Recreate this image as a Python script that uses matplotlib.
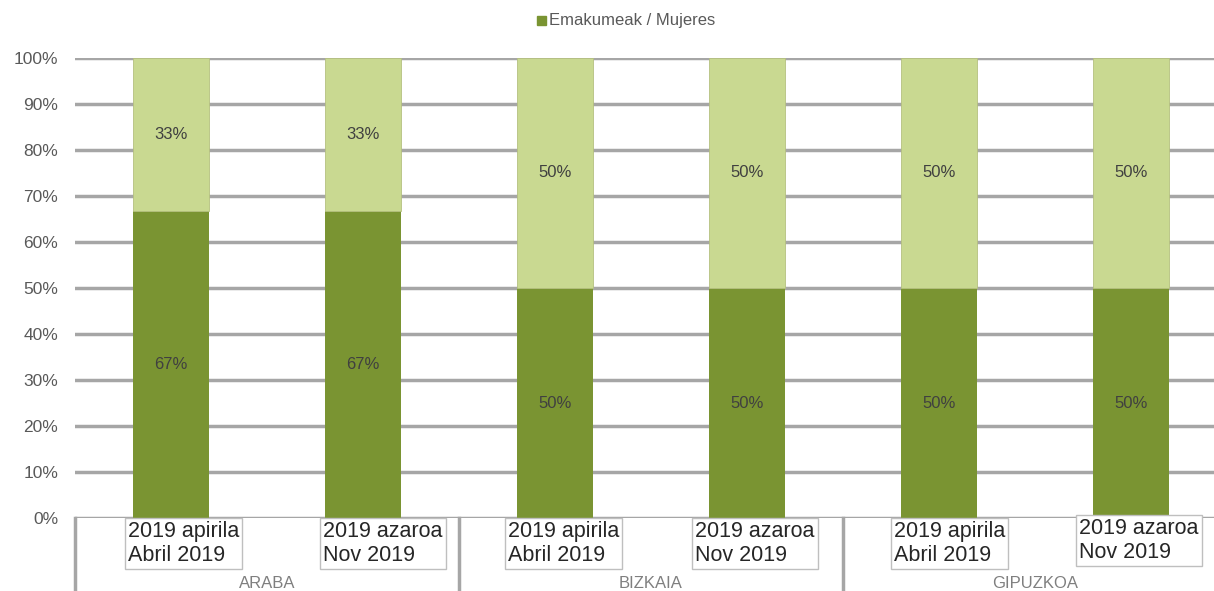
import matplotlib
matplotlib.use("Agg")
import matplotlib.pyplot as plt
from matplotlib.lines import Line2D
from matplotlib.transforms import blended_transform_factory

plt.rcParams['font.family'] = ['Liberation Sans', 'DejaVu Sans']

periods = ["2019 apirila\nAbril 2019", "2019 azaroa\nNov 2019",
           "2019 apirila\nAbril 2019", "2019 azaroa\nNov 2019",
           "2019 apirila\nAbril 2019", "2019 azaroa\nNov 2019"]
groups = ["ARABA", "BIZKAIA", "GIPUZKOA"]
women = [66.67, 66.67, 50, 50, 50, 50]
men = [33.33, 33.33, 50, 50, 50, 50]
women_labels = ["67%", "67%", "50%", "50%", "50%", "50%"]
men_labels = ["33%", "33%", "50%", "50%", "50%", "50%"]
yticks = [0, 10, 20, 30, 40, 50, 60, 70, 80, 90, 100]

W, H = 1214, 591
fig = plt.figure(figsize=(W / 100, H / 100), dpi=100)
ax = fig.add_axes([75 / W, 1 - 518 / H, (1227 - 75) / W, (518 - 58) / H])

dark = "#7a9432"
light = "#c9d991"
grid = "#a6a6a6"

x = list(range(len(women)))
ax.bar(x, women, width=0.4, color=dark, zorder=3)
ax.bar(x, men, bottom=women, width=0.4, color=light, edgecolor="#b5c080", linewidth=0.6, zorder=3)

for i in x:
    ax.text(i, women[i] / 2, women_labels[i], ha="center", va="center",
            fontsize=12, color="#404040", zorder=4)
    ax.text(i, women[i] + men[i] / 2, men_labels[i], ha="center", va="center",
            fontsize=12, color="#404040", zorder=4)

ax.set_xlim(-0.5, 5.5)
ax.set_ylim(0, 100)
ax.set_yticks(yticks)
ax.set_yticklabels([f"{t}%" for t in yticks], fontsize=12.5, color="#595959")
ax.tick_params(axis="y", length=0, pad=12)
ax.set_xticks([])
for s in ax.spines.values():
    s.set_visible(False)
for t in yticks:
    ax.axhline(t, color=grid, lw=2.5, zorder=1)

# category label boxes (pixel offsets of box left edge from bar centre)
box_dx = [-43, -40, -47, -52, -45, -52]
box_top = [521, 521, 521, 521, 521, 518]
tr = blended_transform_factory(ax.transData, fig.transFigure)
unit_px = (1227 - 75) / 6
for i, lab in enumerate(periods):
    ax.text(i + box_dx[i] / unit_px, 1 - box_top[i] / H, lab, transform=tr,
            ha="left", va="top", fontsize=15.5, color="#262626", linespacing=1.2,
            bbox=dict(boxstyle="square,pad=0.15", fc="white", ec="#bfbfbf", lw=1),
            zorder=5, clip_on=False)

# group labels and separators
for g, name in enumerate(groups):
    ax.text(2 * g + 0.5, 1 - 583 / H, name, transform=tr, ha="center", va="center",
            fontsize=12, color="#7f7f7f", clip_on=False)
for xs in [-0.5, 1.5, 3.5]:
    ax.add_line(Line2D([xs, xs], [1 - 518 / H, 0], transform=tr, color=grid,
                       lw=2.5, clip_on=False, zorder=2))

# legend
fig.patches.append(plt.Rectangle((537 / W, 1 - 25 / H), 9 / W, 9 / H,
                                 transform=fig.transFigure, color=dark))
fig.text(549 / W, 1 - 20 / H, "Emakumeak / Mujeres", ha="left", va="center",
         fontsize=12, color="#595959")

fig.savefig("out.png", dpi=100)
